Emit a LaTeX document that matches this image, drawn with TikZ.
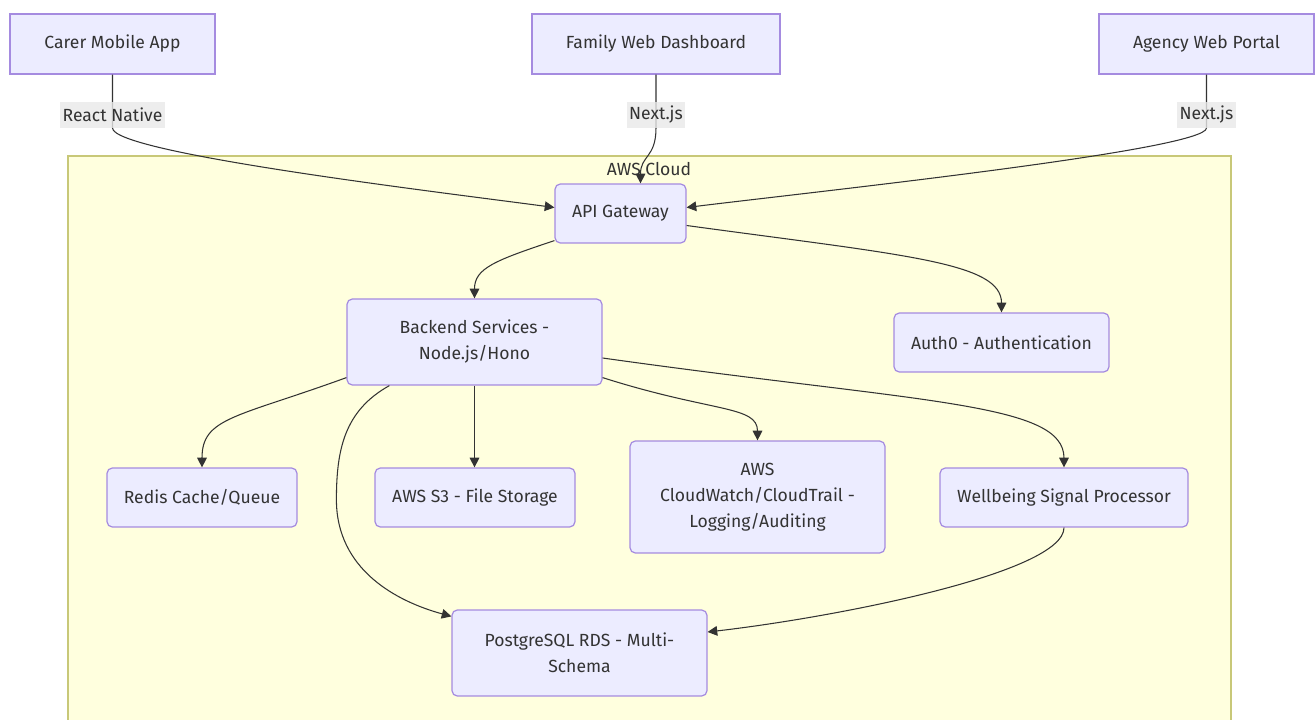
\documentclass[tikz,border=0pt]{standalone}
\usepackage{fontspec}
\setmainfont{Fira Sans}
\usepackage{xcolor}
\usetikzlibrary{calc, arrows.meta, positioning}
\definecolor{nodefill}{HTML}{ECECFF}
\definecolor{nodeline}{HTML}{A58BE0}
\definecolor{cloudfill}{HTML}{FFFFDE}
\definecolor{cloudline}{HTML}{C8C878}
\definecolor{labelfill}{HTML}{E8E8E8}
\definecolor{inkgrey}{HTML}{333333}

\begin{document}
\begin{tikzpicture}[
    x=0.02cm, y=0.02cm,
    every node/.style={font=\fontsize{10}{14.8}\selectfont, text=inkgrey},
    main node/.style={rectangle, draw=nodeline, fill=nodefill, line width=0.7pt, align=center, minimum height=1.2cm},
    cloud node/.style={main node, rounded corners=3pt, minimum height=1.18cm},
    arrow/.style={-{Triangle[length=5.5pt, width=5.5pt]}, inkgrey, line width=0.6pt},
    label node/.style={fill=labelfill, fill opacity=0.8, text opacity=1, inner sep=1.5pt, minimum height=0.52cm},
    cluster/.style={draw=cloudline, fill=cloudfill, line width=0.8pt}
]
\useasboundingbox (0,0) rectangle (1316,-720);

% AWS cluster
\draw[cluster] (68,-156) rectangle (1231,-740);
\node (cloudtitle) at (649,-169) {AWS Cloud};

% Clients
\node[main node, minimum width=4.1cm] (carer) at (112.5,-44) {Carer Mobile App};
\node[main node, minimum width=4.96cm] (family) at (656,-44) {Family Web Dashboard};
\node[main node, minimum width=4.3cm] (agency) at (1206.5,-44) {Agency Web Portal};

% Services
\node[cloud node, minimum width=2.62cm] (api) at (620.5,-213.5) {API Gateway};
\node[cloud node, minimum width=5.1cm, minimum height=1.72cm] (backend) at (474.5,-342) {Backend Services -\\Node.js/Hono};
\node[cloud node, minimum width=4.3cm] (auth) at (1001.5,-342.5) {Auth0 - Authentication};
\node[cloud node, minimum width=3.8cm] (redis) at (202,-497.5) {Redis Cache/Queue};
\node[cloud node, minimum width=4cm] (s3) at (475,-497.5) {AWS S3 - File Storage};
\node[cloud node, minimum width=5.1cm, minimum height=2.24cm] (watch) at (757.5,-497) {AWS\\CloudWatch/CloudTrail -\\Logging/Auditing};
\node[cloud node, minimum width=4.96cm] (wellbeing) at (1064,-497.5) {Wellbeing Signal Processor};
\node[cloud node, minimum width=5.1cm, minimum height=1.72cm] (postgres) at (579.5,-653) {PostgreSQL RDS - Multi-\\Schema};

% Client arrows
\draw[arrow] (carer.south) -- (112.5,-128) .. controls +(0,-25) and +(-120,16) .. ($(api.west)+(0,6)$);
\draw[arrow] (family.south) -- (656,-128) .. controls +(0,-30) and +(0,28) .. ($(api.north)+(20,0)$);
\draw[arrow] (agency.south) -- (1206.5,-128) .. controls +(0,-22) and +(130,16) .. ($(api.east)+(0,6)$);

% Edge labels
\node[label node] (rnlabel) at (112.5,-115) {React Native};
\node[label node] (fnlabel) at (656,-115) {Next.js};
\node[label node] (anlabel) at (1206.5,-115) {Next.js};

% Gateway arrows
\draw[arrow] ($(api.south west)+(0,3)$) .. controls +(-60,-20) and +(0,30) .. (backend.north);
\draw[arrow] ($(api.east)+(0,-12)$) .. controls +(220,-30) and +(0,50) .. (auth.north);

% Backend arrows
\draw[arrow] ($(backend.south west)+(0,8)$) .. controls +(-110,-40) and +(0,50) .. (redis.north);
\draw[arrow] (backend.south) -- (backend.south |- s3.north);
\draw[arrow] ($(backend.south east)+(0,8)$) .. controls +(110,-35) and +(0,35) .. (watch.north);
\draw[arrow] ($(backend.east)+(0,-16)$) .. controls +(320,-45) and +(0,65) .. (wellbeing.north);
\draw[arrow] ($(backend.south west)+(43,0)$) .. controls +(-45,-25) and +(0,50) .. ++(-53,-114)
    .. controls +(0,-70) and +(-55,15) .. ($(postgres.north west)+(0,-7)$);

% Signal processor to database
\draw[arrow] (wellbeing.south) .. controls +(0,-45) and +(130,15) .. ($(postgres.east)+(0,21)$);
\end{tikzpicture}
\end{document}
